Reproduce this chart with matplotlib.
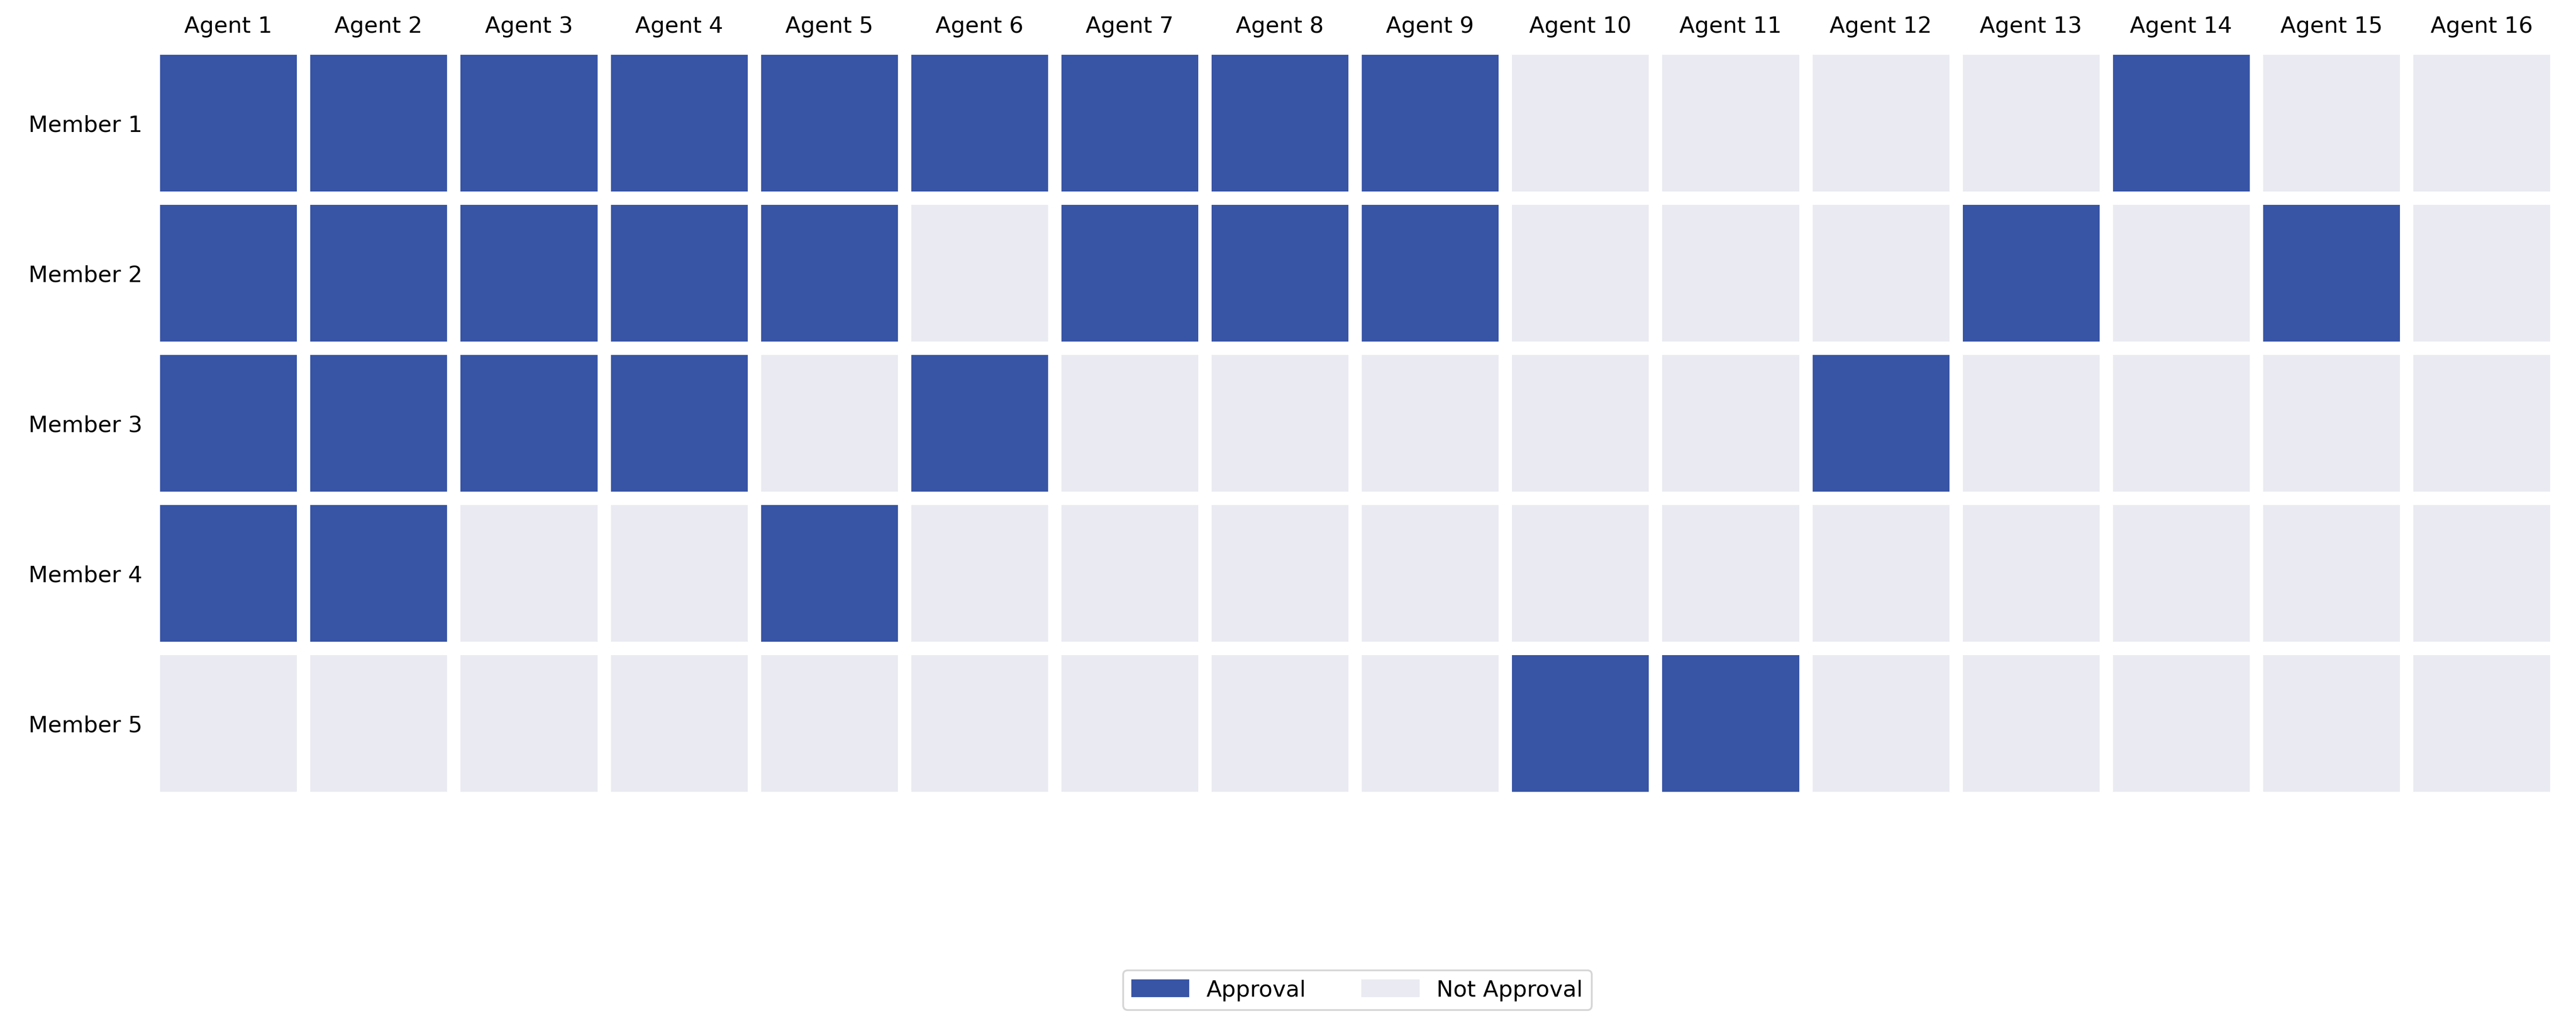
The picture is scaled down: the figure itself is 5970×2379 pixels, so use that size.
import matplotlib
matplotlib.use("Agg")
import matplotlib.pyplot as plt
import matplotlib.patches as mpatches
from matplotlib.colors import ListedColormap
import numpy as np

agents = [f"Agent {i}" for i in range(1, 17)]
members = [f"Member {i}" for i in range(1, 6)]

# 1 = approval, 0 = not approval
member_1 = [1, 1, 1, 1, 1, 1, 1, 1, 1, 0, 0, 0, 0, 1, 0, 0]
member_2 = [1, 1, 1, 1, 1, 0, 1, 1, 1, 0, 0, 0, 1, 0, 1, 0]
member_3 = [1, 1, 1, 1, 0, 1, 0, 0, 0, 0, 0, 1, 0, 0, 0, 0]
member_4 = [1, 1, 0, 0, 1, 0, 0, 0, 0, 0, 0, 0, 0, 0, 0, 0]
member_5 = [0, 0, 0, 0, 0, 0, 0, 0, 0, 1, 1, 0, 0, 0, 0, 0]

grid = np.array([member_1, member_2, member_3, member_4, member_5])

c_yes = "#3754a5"
c_no = "#eaeaf2"

fig = plt.figure(figsize=(19.9, 7.933), dpi=300)
ax = fig.add_axes([0.0595, 0.222, 0.933, 0.731])
ax.pcolormesh(grid, cmap=ListedColormap([c_no, c_yes]), vmin=0, vmax=1,
              edgecolors="white", linewidth=7)
ax.set_xlim(0, len(agents))
ax.set_ylim(len(members), 0)
ax.set_xticks(np.arange(len(agents)) + 0.5)
ax.set_xticklabels(agents, fontsize=12.5)
ax.set_yticks(np.arange(len(members)) + 0.5)
ax.set_yticklabels(members, fontsize=12.5)
ax.xaxis.tick_top()
ax.tick_params(length=0, pad=6)
for s in ax.spines.values():
    s.set_visible(False)

handles = [mpatches.Patch(color=c_yes, label="Approval"),
           mpatches.Patch(color=c_no, label="Not Approval")]
fig.legend(handles=handles, loc="center", bbox_to_anchor=(0.527, 0.035),
           ncol=2, fontsize=12.5, frameon=True, handlelength=2.5, columnspacing=2.5)

fig.savefig("out.png", dpi=300)
